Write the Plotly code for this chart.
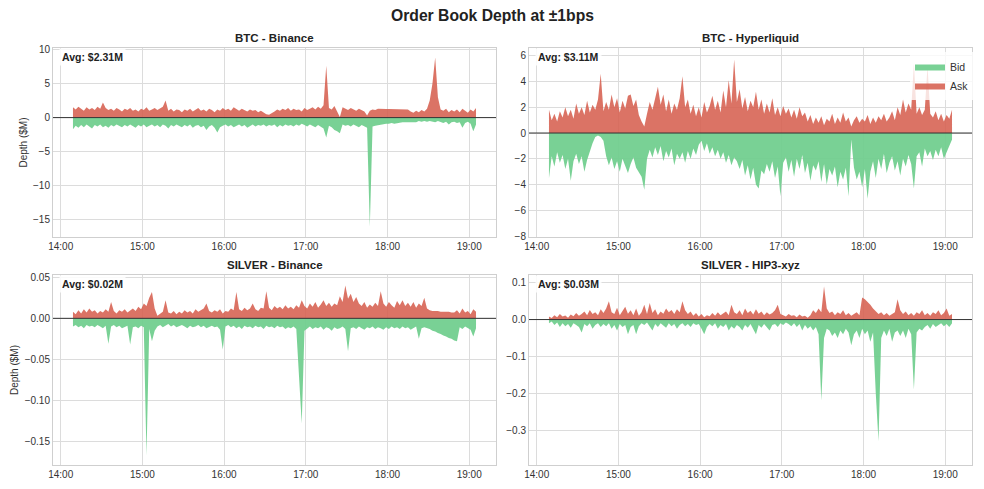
import plotly.graph_objects as go
import pandas as pd

# ---------------- data ($M) ----------------
start_time = "2024-01-01 14:09"
n_points = 149  # 2-minute samples from 14:09 to 19:05

btc_binance_ask = [1.5, 1.2, 1.6, 1.3, 1.0, 1.5, 1.2, 1.4, 1.1, 1.6,
                   1.3, 2.2, 1.4, 1.1, 1.3, 1.0, 1.4, 1.2, 0.9, 1.3,
                   1.1, 1.4, 1.0, 1.2, 0.9, 1.3, 1.1, 1.5, 1.0, 1.2,
                   1.4, 1.1, 1.3, 1.6, 2.5, 1.0, 1.3, 0.9, 1.2, 1.1,
                   0.8, 1.2, 1.0, 1.3, 0.9, 1.1, 1.4, 1.0, 1.2, 0.9,
                   1.3, 1.1, 0.8, 1.2, 1.0, 1.4, 1.1, 1.3, 1.0, 1.5,
                   1.2, 1.0, 1.3, 1.1, 0.9, 1.2, 1.0, 1.1, 0.8, 1.0,
                   0.7, 0.5, 0.4, 0.6, 0.9, 1.2, 1.0, 1.3, 1.1, 1.4,
                   1.0, 1.3, 1.1, 1.2, 0.9, 1.4, 1.1, 1.3, 1.5, 1.2,
                   1.6, 1.3, 1.8, 7.6, 1.4, 1.2, 1.7, 0.9, 0.1, 1.5,
                   1.3, 1.1, 1.4, 1.2, 1.0, 1.3, 1.1, 0.9, 0.3, 1.0,
                   1.2, 1.1, 1.3, 1.25, 1.25, 1.25, 1.25, 1.25, 1.25, 1.25,
                   1.25, 1.25, 1.25, 1.2, 0.9, 0.7, 1.0, 0.8, 1.1, 0.9,
                   1.3, 2.5, 5.0, 8.8, 3.0, 1.2, 1.0, 1.3, 0.8, 1.1,
                   0.9, 1.2, 0.8, 1.3, 1.0, 0.7, 1.2, 0.9, 1.4]
btc_binance_bid = [-1.7, -1.2, -1.5, -1.1, -1.4, -1.0, -1.3, -1.6, -1.1, -1.3,
                   -1.0, -1.4, -1.2, -1.5, -1.1, -1.3, -1.0, -1.2, -1.4, -1.1,
                   -1.3, -1.0, -1.2, -1.5, -1.1, -1.3, -1.0, -1.4, -1.2, -1.0,
                   -1.3, -1.1, -1.4, -1.0, -1.2, -1.6, -1.1, -1.3, -1.0, -1.2,
                   -1.4, -1.1, -1.3, -1.0, -1.5, -1.2, -1.1, -1.4, -1.2, -1.8,
                   -1.3, -1.1, -1.5, -2.2, -1.4, -1.2, -1.0, -1.3, -1.1, -1.4,
                   -1.2, -1.0, -1.3, -1.1, -1.5, -1.2, -1.0, -1.3, -1.1, -1.2,
                   -1.0, -1.3, -1.1, -1.2, -1.0, -1.4, -1.1, -1.3, -1.0, -1.2,
                   -1.1, -1.3, -1.0, -1.2, -0.9, -1.1, -1.3, -1.0, -1.2, -1.4,
                   -1.1, -1.3, -1.6, -2.9, -1.2, -1.4, -1.8, -2.0, -2.3, -1.0,
                   -1.2, -1.1, -1.3, -1.0, -1.2, -1.4, -1.1, -1.3, -1.5, -16.0,
                   -1.3, -1.2, -1.1, -1.0, -1.0, -0.9, -0.9, -0.8, -0.9, -0.8,
                   -0.8, -0.7, -0.7, -0.7, -0.6, -0.6, -0.7, -0.5, -0.6, -0.5,
                   -0.6, -0.5, -0.6, -0.7, -0.5, -0.6, -0.8, -0.6, -1.0, -0.7,
                   -0.6, -0.8, -0.7, -1.5, -0.8, -0.6, -0.9, -2.0, -1.0]

btc_hl_ask = [1.8, 1.0, 1.5, 0.9, 1.7, 1.2, 2.0, 1.3, 1.8, 1.1,
              2.3, 1.5, 2.0, 1.4, 2.5, 1.6, 2.2, 1.8, 2.6, 4.6,
              1.7, 2.4, 1.8, 3.0, 2.0, 2.7, 1.6, 2.5, 1.9, 2.9,
              3.0, 2.1, 2.6, 1.4, 0.9, 0.5, 1.5, 2.4, 1.8, 2.8,
              3.6, 2.2, 3.0, 1.7, 2.6, 1.5, 2.3, 1.8, 2.7, 4.4,
              2.0, 2.6, 1.5, 2.2, 1.3, 2.0, 1.2, 2.4, 1.6, 2.1,
              2.9, 1.8, 2.5, 1.6, 3.3, 2.0, 4.1, 2.3, 5.7, 2.4,
              3.4, 1.9, 2.8, 1.7, 2.5, 2.0, 3.2, 1.8, 2.6, 1.5,
              2.3, 1.6, 2.7, 1.4, 2.0, 1.3, 2.1, 1.5, 1.9, 1.2,
              1.8, 1.1, 2.0, 1.3, 1.6, 0.9, 1.4, 0.7, 1.2, 0.8,
              1.3, 0.6, 1.1, 0.9, 1.5, 0.7, 1.2, 0.8, 1.6, 0.9,
              1.2, 0.5, 1.0, 1.3, 0.8, 1.1, 0.9, 1.4, 0.7, 1.2,
              0.8, 1.3, 1.0, 1.5, 0.9, 1.2, 1.7, 1.0, 2.0, 1.4,
              2.6, 1.6, 2.3, 1.8, 5.4, 1.5, 2.0, 1.4, 1.8, 5.2,
              1.5, 1.2, 1.7, 1.0, 1.5, 0.9, 1.4, 1.1, 1.8]
btc_hl_bid = [-3.5, -1.8, -2.6, -1.5, -2.3, -1.7, -2.8, -2.0, -3.7, -2.2,
              -1.6, -2.4, -1.8, -3.0, -2.1, -1.4, -0.8, -0.3, -0.2, -0.3,
              -0.6, -1.8, -2.5, -1.9, -2.8, -2.2, -3.0, -2.0, -2.6, -3.1,
              -2.4, -1.9, -2.7, -3.0, -3.4, -4.4, -2.0, -1.3, -1.9, -1.1,
              -1.7, -1.0, -2.2, -1.4, -1.9, -1.2, -2.5, -1.6, -2.0, -1.5,
              -2.3, -1.4, -2.0, -1.2, -1.7, -0.9, -0.6, -1.4, -0.8, -1.6,
              -1.1, -1.8, -1.3, -2.0, -1.5, -2.3, -1.7, -2.5, -1.9, -2.2,
              -2.8, -2.1, -3.3, -2.5, -3.6, -2.7, -4.0, -4.3, -2.9, -3.2,
              -2.4, -3.0, -2.2, -3.5, -2.6, -4.9, -2.3, -1.9, -3.0, -2.1,
              -3.4, -2.0, -2.8, -1.7, -3.1, -2.3, -3.7, -2.5, -2.9, -2.2,
              -3.8, -2.4, -4.0, -2.8, -3.3, -2.6, -4.2, -3.0, -3.6, -2.7,
              -4.9, -0.5, -2.7, -3.6, -3.0, -4.2, -2.8, -5.1, -3.0, -2.2,
              -3.5, -2.0, -2.8, -1.6, -3.1, -2.3, -1.8, -2.9, -2.2, -3.3,
              -2.0, -2.6, -1.7, -2.4, -4.3, -1.8, -1.5, -2.6, -1.2, -1.8,
              -1.4, -2.1, -1.3, -1.8, -1.1, -2.0, -1.5, -1.0, -0.5]

silver_binance_ask = [0.008, 0.005, 0.010, 0.006, 0.011, 0.007, 0.012, 0.008, 0.010, 0.006,
                      0.009, 0.007, 0.011, 0.008, 0.020, 0.009, 0.006, 0.010, 0.008, 0.011,
                      0.007, 0.010, 0.012, 0.009, 0.014, 0.011, 0.018, 0.015, 0.025, 0.032,
                      0.012, 0.003, 0.005, 0.008, 0.022, 0.007, 0.006, 0.009, 0.005, 0.008,
                      0.006, 0.010, 0.007, 0.009, 0.006, 0.011, 0.008, 0.010, 0.012, 0.018,
                      0.009, 0.007, 0.010, 0.008, 0.011, 0.006, 0.009, 0.008, 0.012, 0.010,
                      0.032, 0.011, 0.009, 0.013, 0.010, 0.012, 0.018, 0.011, 0.009, 0.013,
                      0.012, 0.033, 0.013, 0.010, 0.015, 0.012, 0.014, 0.011, 0.016, 0.012,
                      0.014, 0.011, 0.016, 0.013, 0.022, 0.015, 0.012, 0.018, 0.014, 0.020,
                      0.013, 0.017, 0.022, 0.015, 0.019, 0.014, 0.018, 0.016, 0.027, 0.020,
                      0.040, 0.024, 0.030, 0.020, 0.026, 0.018, 0.015, 0.020, 0.013, 0.017,
                      0.014, 0.019, 0.015, 0.033, 0.018, 0.014, 0.020, 0.016, 0.013, 0.021,
                      0.016, 0.022, 0.015, 0.019, 0.014, 0.020, 0.013, 0.018, 0.015, 0.025,
                      0.012, 0.010, 0.009, 0.009, 0.009, 0.008, 0.008, 0.008, 0.008, 0.007,
                      0.007, 0.010, 0.006, 0.012, 0.007, 0.009, 0.005, 0.011, 0.008]
silver_binance_bid = [-0.010, -0.008, -0.011, -0.009, -0.012, -0.008, -0.010, -0.009, -0.011, -0.008,
                      -0.010, -0.012, -0.009, -0.031, -0.010, -0.008, -0.011, -0.009, -0.012, -0.010,
                      -0.009, -0.032, -0.011, -0.010, -0.012, -0.009, -0.011, -0.167, -0.013, -0.028,
                      -0.015, -0.010, -0.008, -0.011, -0.009, -0.007, -0.010, -0.008, -0.011, -0.009,
                      -0.008, -0.010, -0.012, -0.009, -0.011, -0.010, -0.008, -0.011, -0.009, -0.012,
                      -0.010, -0.009, -0.011, -0.010, -0.014, -0.038, -0.010, -0.008, -0.011, -0.009,
                      -0.012, -0.010, -0.013, -0.009, -0.011, -0.010, -0.012, -0.009, -0.011, -0.010,
                      -0.013, -0.009, -0.011, -0.010, -0.012, -0.009, -0.011, -0.010, -0.013, -0.011,
                      -0.012, -0.010, -0.013, -0.078, -0.128, -0.015, -0.012, -0.010, -0.013, -0.011,
                      -0.012, -0.010, -0.014, -0.011, -0.012, -0.015, -0.011, -0.013, -0.012, -0.010,
                      -0.013, -0.040, -0.012, -0.011, -0.013, -0.010, -0.012, -0.014, -0.011, -0.012,
                      -0.010, -0.013, -0.011, -0.012, -0.014, -0.011, -0.013, -0.010, -0.012, -0.011,
                      -0.013, -0.010, -0.012, -0.011, -0.014, -0.012, -0.010, -0.025, -0.012, -0.011,
                      -0.012, -0.013, -0.015, -0.016, -0.018, -0.019, -0.021, -0.022, -0.024, -0.025,
                      -0.027, -0.028, -0.011, -0.013, -0.010, -0.012, -0.014, -0.022, -0.012]

silver_hip3_ask = [0.008, 0.004, 0.012, 0.006, 0.015, 0.008, 0.011, 0.005, 0.014, 0.009,
                   0.018, 0.010, 0.015, 0.022, 0.012, 0.026, 0.015, 0.020, 0.012, 0.028,
                   0.018, 0.030, 0.050, 0.020, 0.015, 0.032, 0.012, 0.025, 0.035, 0.016,
                   0.025, 0.012, 0.030, 0.010, 0.020, 0.040, 0.015, 0.045, 0.018, 0.028,
                   0.012, 0.022, 0.016, 0.030, 0.020, 0.026, 0.015, 0.028, 0.020, 0.050,
                   0.025, 0.015, 0.022, 0.010, 0.018, 0.008, 0.015, 0.006, 0.012, 0.009,
                   0.018, 0.010, 0.020, 0.012, 0.016, 0.022, 0.012, 0.040, 0.020, 0.015,
                   0.025, 0.012, 0.030, 0.018, 0.024, 0.014, 0.028, 0.016, 0.022, 0.012,
                   0.020, 0.014, 0.018, 0.025, 0.040, 0.015, 0.012, 0.008, 0.015, 0.010,
                   0.012, 0.006, 0.014, 0.008, 0.010, 0.005, 0.012, 0.025, 0.018, 0.030,
                   0.020, 0.090, 0.030, 0.018, 0.022, 0.012, 0.020, 0.015, 0.025, 0.012,
                   0.018, 0.010, 0.015, 0.020, 0.012, 0.060, 0.055, 0.048, 0.040, 0.030,
                   0.022, 0.015, 0.020, 0.012, 0.018, 0.010, 0.015, 0.020, 0.055, 0.025,
                   0.015, 0.022, 0.012, 0.018, 0.010, 0.020, 0.015, 0.025, 0.012, 0.018,
                   0.010, 0.020, 0.015, 0.025, 0.012, 0.018, 0.030, 0.010, 0.015]
silver_hip3_bid = [-0.010, -0.005, -0.015, -0.008, -0.020, -0.010, -0.018, -0.012, -0.022, -0.010,
                   -0.015, -0.020, -0.035, -0.012, -0.018, -0.010, -0.025, -0.015, -0.010, -0.020,
                   -0.012, -0.018, -0.010, -0.025, -0.015, -0.030, -0.012, -0.020, -0.015, -0.040,
                   -0.020, -0.015, -0.040, -0.018, -0.010, -0.015, -0.008, -0.020, -0.030, -0.012,
                   -0.020, -0.010, -0.015, -0.022, -0.010, -0.018, -0.012, -0.025, -0.015, -0.010,
                   -0.018, -0.012, -0.020, -0.010, -0.015, -0.012, -0.025, -0.040, -0.020, -0.012,
                   -0.018, -0.010, -0.025, -0.015, -0.020, -0.012, -0.030, -0.018, -0.025, -0.015,
                   -0.020, -0.030, -0.015, -0.022, -0.012, -0.025, -0.040, -0.015, -0.022, -0.012,
                   -0.020, -0.030, -0.015, -0.012, -0.020, -0.010, -0.015, -0.008, -0.012, -0.018,
                   -0.010, -0.020, -0.012, -0.030, -0.015, -0.025, -0.018, -0.030, -0.020, -0.040,
                   -0.220, -0.050, -0.025, -0.030, -0.045, -0.035, -0.050, -0.030, -0.040, -0.025,
                   -0.035, -0.070, -0.040, -0.030, -0.050, -0.025, -0.040, -0.030, -0.060, -0.035,
                   -0.200, -0.330, -0.050, -0.030, -0.045, -0.025, -0.060, -0.035, -0.030, -0.045,
                   -0.030, -0.050, -0.025, -0.040, -0.190, -0.035, -0.025, -0.030, -0.020, -0.015,
                   -0.025, -0.012, -0.020, -0.015, -0.010, -0.018, -0.012, -0.020, -0.010]

panel_titles = ["BTC - Binance", "BTC - Hyperliquid", "SILVER - Binance", "SILVER - HIP3-xyz"]
avg_labels = ["Avg: $2.31M", "Avg: $3.11M", "Avg: $0.02M", "Avg: $0.03M"]
series_names = ["Bid", "Ask"]
main_title = "Order Book Depth at ±1bps"
y_title = "Depth ($M)"

times = pd.date_range(start_time, periods=n_points, freq="2min")

# ---------------- styling / layout ----------------
W, H = 984, 489
FONT = "Liberation Sans, Arial, Helvetica, sans-serif"
BID_COLOR = "rgba(110, 205, 140, 0.92)"
ASK_COLOR = "rgba(214, 96, 80, 0.88)"
GRID = "#dcdcdc"
SPINE = "#cfcfcf"
TICKC = "#333333"

def px_x(p):
    return p / W

def px_y(p):
    return 1 - p / H

# pixel boxes: (left, right, top, bottom)
boxes = [(53, 496, 48, 237), (529, 972, 48, 237), (53, 496, 275, 465), (529, 972, 275, 465)]
title_y = [38, 38, 265, 265]
ytitle_x = [23, None, 14, None]
y_ranges = [[-17.5, 10.2], [-8.07, 6.6], [-0.1787, 0.0528], [-0.395, 0.121]]
y_dticks = [5, 2, 0.05, 0.1]
y_formats = ["d", "d", ".2f", ".1f"]
x_range = ["2024-01-01 13:54:20", "2024-01-01 19:19:40"]

asks = [btc_binance_ask, btc_hl_ask, silver_binance_ask, silver_hip3_ask]
bids = [btc_binance_bid, btc_hl_bid, silver_binance_bid, silver_hip3_bid]

fig = go.Figure()
annotations = []
shapes = []

for i in range(4):
    k = "" if i == 0 else str(i + 1)
    xa, ya = "x" + k, "y" + k
    l, r, t, b = boxes[i]
    fig.add_trace(go.Scatter(x=times, y=bids[i], name=series_names[0], mode="lines",
                             line=dict(width=0, color=BID_COLOR), fill="tozeroy",
                             fillcolor=BID_COLOR, xaxis=xa, yaxis=ya,
                             showlegend=(i == 1), legendgroup="bid", hoverinfo="skip"))
    fig.add_trace(go.Scatter(x=times, y=asks[i], name=series_names[1], mode="lines",
                             line=dict(width=0, color=ASK_COLOR), fill="tozeroy",
                             fillcolor=ASK_COLOR, xaxis=xa, yaxis=ya,
                             showlegend=(i == 1), legendgroup="ask", hoverinfo="skip"))
    fig.update_layout(**{
        "xaxis" + k: dict(domain=[px_x(l), px_x(r)], anchor=ya, range=x_range, type="date",
                          tickformat="%H:%M", dtick=3600000, tick0="2024-01-01 14:00",
                          showgrid=True, gridcolor=GRID, gridwidth=1, automargin=False,
                          showline=True, mirror=True, linecolor=SPINE, linewidth=1,
                          ticks="", tickfont=dict(family=FONT, size=10, color=TICKC),
                          zeroline=False),
        "yaxis" + k: dict(domain=[px_y(b), px_y(t)], anchor=xa, range=y_ranges[i],
                          dtick=y_dticks[i], tick0=0, tickformat=y_formats[i],
                          showgrid=True, gridcolor=GRID, gridwidth=1, automargin=False,
                          showline=True, mirror=True, linecolor=SPINE, linewidth=1,
                          ticks="", tickfont=dict(family=FONT, size=10, color=TICKC),
                          zeroline=False),
    })
    shapes.append(dict(type="line", xref=xa + " domain", yref=ya, x0=0, x1=1, y0=0, y1=0,
                       line=dict(color="#333333", width=1), layer="above"))
    annotations.append(dict(text="<b>" + panel_titles[i] + "</b>", xref="paper", yref="paper",
                            x=px_x((l + r) / 2), y=px_y(title_y[i]), xanchor="center", yanchor="middle",
                            showarrow=False, font=dict(family=FONT, size=11.5, color="#222222")))
    annotations.append(dict(text="<b>" + avg_labels[i] + "</b>", xref="paper", yref="paper",
                            x=px_x(l + 6), y=px_y(t + 9), xanchor="left", yanchor="middle",
                            showarrow=False, bgcolor="rgba(255,255,255,0.85)", borderpad=2,
                            font=dict(family=FONT, size=10.5, color="#222222")))
    if ytitle_x[i] is not None:
        annotations.append(dict(text=y_title, xref="paper", yref="paper", textangle=-90,
                                x=px_x(ytitle_x[i]), y=px_y((t + b) / 2), xanchor="center",
                                yanchor="middle", showarrow=False,
                                font=dict(family=FONT, size=10, color=TICKC)))

annotations.append(dict(text="<b>" + main_title + "</b>", xref="paper", yref="paper",
                        x=0.5, y=px_y(15), xanchor="center", yanchor="middle", showarrow=False,
                        font=dict(family=FONT, size=15.7, color="#222222")))

fig.update_layout(
    width=W, height=H,
    margin=dict(l=0, r=0, t=0, b=0, autoexpand=False),
    paper_bgcolor="white", plot_bgcolor="white",
    annotations=annotations, shapes=shapes,
    legend=dict(x=px_x(974), y=px_y(52), xanchor="right", yanchor="top",
                bgcolor="rgba(255,255,255,0.8)", font=dict(family=FONT, size=10.5, color=TICKC),
                itemwidth=30, tracegroupgap=0),
    font=dict(family=FONT),
)

fig.write_html("out.html", config={"displayModeBar": False},
               post_script="document.body.style.margin='0px';document.body.style.padding='0px';"
                           "document.body.style.overflow='hidden';")
